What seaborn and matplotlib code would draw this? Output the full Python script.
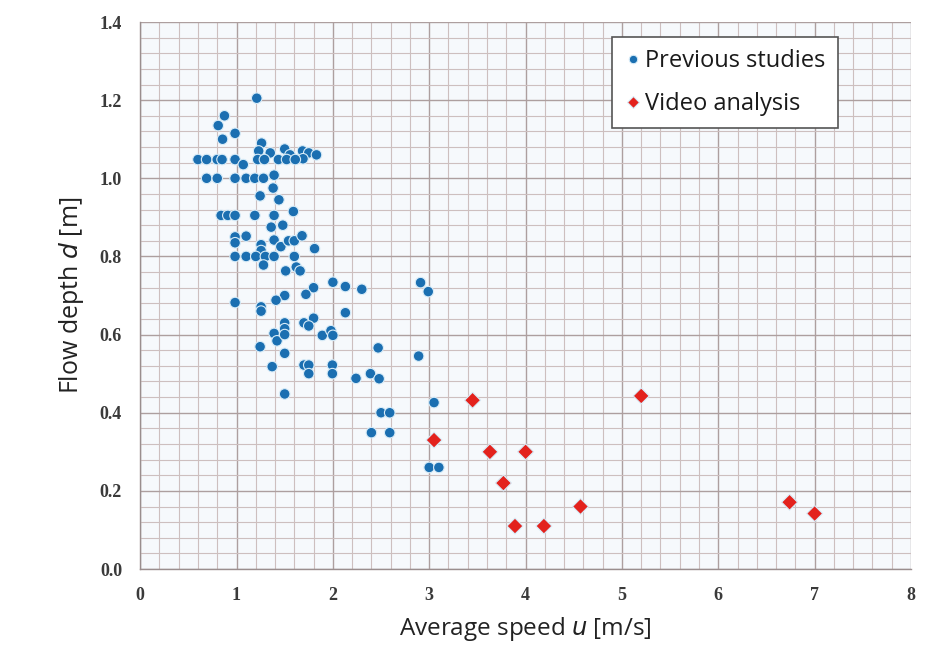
import matplotlib
matplotlib.use("Agg")
import matplotlib.pyplot as plt
from matplotlib.ticker import MultipleLocator, FormatStrFormatter
import numpy as np
import pandas as pd
import seaborn as sns

# Previous studies: average speed u [m/s] and flow depth d [m]
prev_u = [1.21, 0.875, 0.81, 0.985, 0.855, 1.26, 1.23, 1.35, 1.50, 1.555, 1.685, 1.75, 1.83, 1.69,
          0.60, 0.69, 0.80, 0.85, 0.985, 1.22, 1.29, 1.435, 1.52, 1.61, 1.07,
          0.69, 0.80, 0.985, 1.10, 1.19, 1.28, 1.39,
          1.38, 1.245, 1.44, 1.59,
          0.84, 0.91, 0.985, 1.19, 1.39,
          1.36, 1.48, 0.985, 0.985,
          1.10, 1.255, 1.255, 1.39, 1.46, 1.54, 1.60, 1.68, 1.81,
          0.985, 1.10, 1.20, 1.30, 1.39, 1.60,
          1.28, 1.51, 1.62, 1.66,
          2.00, 1.80, 1.72, 1.50, 1.41, 0.985, 1.255, 1.255,
          1.50, 1.70, 1.80, 1.75, 1.50, 2.13, 1.39, 1.42, 1.50, 1.89, 1.98, 2.00,
          1.245, 1.50, 1.37, 1.70, 1.75, 1.75, 1.995, 1.995, 2.24, 2.39, 1.50,
          2.13, 2.30, 2.91, 2.99, 2.47, 2.89, 2.48, 2.50, 2.59, 2.40, 2.59, 3.05, 3.00, 3.10]
prev_d = [1.205, 1.16, 1.135, 1.115, 1.10, 1.09, 1.07, 1.065, 1.075, 1.06, 1.07, 1.065, 1.06, 1.05,
          1.048, 1.048, 1.048, 1.048, 1.048, 1.048, 1.048, 1.048, 1.048, 1.048, 1.035,
          1.00, 1.00, 1.00, 1.00, 1.00, 1.00, 1.008,
          0.975, 0.955, 0.945, 0.915,
          0.905, 0.905, 0.905, 0.905, 0.905,
          0.875, 0.88, 0.85, 0.835,
          0.852, 0.83, 0.815, 0.842, 0.825, 0.84, 0.84, 0.853, 0.82,
          0.80, 0.80, 0.80, 0.80, 0.80, 0.80,
          0.778, 0.763, 0.773, 0.763,
          0.734, 0.72, 0.703, 0.70, 0.688, 0.682, 0.671, 0.66,
          0.63, 0.63, 0.642, 0.622, 0.615, 0.656, 0.603, 0.584, 0.60, 0.598, 0.61, 0.598,
          0.569, 0.552, 0.518, 0.522, 0.522, 0.50, 0.522, 0.50, 0.488, 0.50, 0.448,
          0.723, 0.716, 0.733, 0.71, 0.566, 0.545, 0.487, 0.40, 0.40, 0.349, 0.349, 0.426, 0.26, 0.26]

# Video analysis results
video_u = [3.45, 3.05, 3.63, 4.00, 3.77, 4.57, 3.89, 4.19, 5.20, 6.74, 7.00]
video_d = [0.432, 0.330, 0.300, 0.300, 0.220, 0.160, 0.110, 0.110, 0.443, 0.171, 0.142]

series_names = ["Previous studies", "Video analysis"]

df = pd.DataFrame({
    "u": prev_u + video_u,
    "d": prev_d + video_d,
    "source": [series_names[0]] * len(prev_u) + [series_names[1]] * len(video_u),
})

sns.set_style("white")
fig = plt.figure(figsize=(9.47, 6.53), dpi=100)
ax = fig.add_axes([0.148, 0.1286, 0.814, 0.8377])
ax.set_facecolor("#f6f9fc")

sns.scatterplot(
    data=df, x="u", y="d", hue="source", style="source", size="source",
    hue_order=series_names, style_order=series_names, size_order=series_names,
    palette={series_names[0]: "#1b6fb1", series_names[1]: "#e3221d"},
    markers={series_names[0]: "o", series_names[1]: "D"},
    sizes={series_names[0]: 58, series_names[1]: 66},
    edgecolor="#d8ecf8", linewidth=0.8, ax=ax, zorder=3,
)

ax.set_xlim(0, 8)
ax.set_ylim(0, 1.4)
ax.xaxis.set_major_locator(MultipleLocator(1))
ax.xaxis.set_minor_locator(MultipleLocator(0.2))
ax.yaxis.set_major_locator(MultipleLocator(0.2))
ax.yaxis.set_minor_locator(MultipleLocator(0.04))
ax.yaxis.set_major_formatter(FormatStrFormatter("%.1f"))

ax.grid(which="major", color="#ad9f9f", linewidth=1.0, zorder=0)
ax.grid(which="minor", color="#cdbfbf", linewidth=0.8, zorder=0)
ax.set_axisbelow(True)

for side in ["top", "right"]:
    ax.spines[side].set_visible(False)
for side in ["left", "bottom"]:
    ax.spines[side].set_color("#9a8e8e")
    ax.spines[side].set_linewidth(1.0)

ax.tick_params(axis="both", which="major", direction="out", length=5, width=1,
               color="#9a8e8e", labelcolor="#3a3a3a", pad=8)
ax.tick_params(axis="both", which="minor", length=0)
for lab in ax.get_xticklabels() + ax.get_yticklabels():
    lab.set_fontfamily("Liberation Serif")
    lab.set_fontsize(13)
    lab.set_fontweight("bold")

ax.set_xlabel("Average speed $\\mathit{u}$ [m/s]", fontsize=17.5, family="Open Sans",
              color="#222222", labelpad=8)
ax.set_ylabel("Flow depth $\\mathit{d}$ [m]", fontsize=18, family="Open Sans",
              color="#222222", labelpad=10)

handles, labels = ax.get_legend_handles_labels()
leg = ax.legend(handles=handles, labels=labels,
                loc="upper left", bbox_to_anchor=(0.612, 0.972), frameon=True,
                fancybox=False, edgecolor="#555555", framealpha=1, fontsize=17,
                borderpad=0.5, labelspacing=0.8, handletextpad=0.12, handlelength=0.8,
                borderaxespad=0, markerscale=0.8)
leg.get_frame().set_linewidth(1.2)
for t in leg.get_texts():
    t.set_fontfamily("Open Sans")
    t.set_color("#1a1a1a")

fig.savefig("out.png", dpi=100)
